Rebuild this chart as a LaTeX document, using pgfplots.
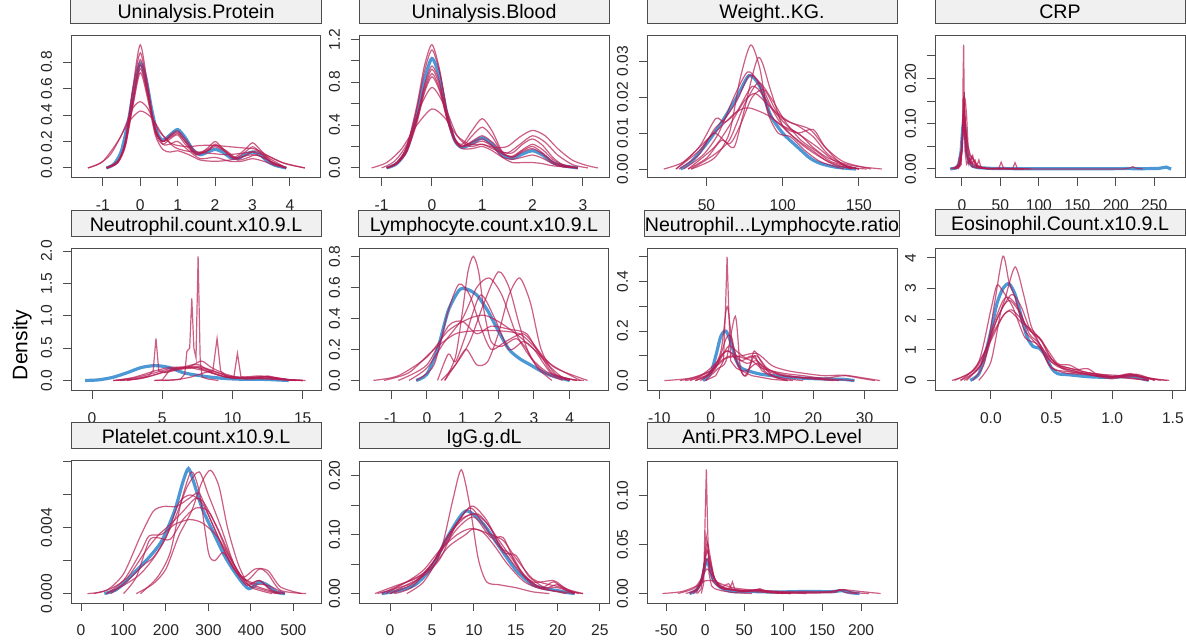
\documentclass[border=0pt]{standalone}
\usepackage{fontspec}
\setmainfont{Liberation Sans}
\usepackage{pgfplots}
\pgfplotsset{compat=1.18}
\definecolor{obsblue}{HTML}{006CC2}
\definecolor{impred}{HTML}{B61A51}
\pgfplotsset{
  panel/.style={
    scale only axis, width=125pt, height=71pt, anchor=south west,
    axis line style={draw=black!70, line width=0.5pt},
    tick align=outside, xtick pos=bottom, ytick pos=left,
    major tick length=4pt,
    tick style={draw=black!70, line width=0.5pt},
    scaled ticks=false,
    tick label style={font=\fontsize{7.8}{9}\selectfont, text=black!85},
    yticklabel style={xshift=-2pt, rotate=90, anchor=south},
    xticklabel style={yshift=-3.5pt},
    title style={at={(0.5,1)}, anchor=south, draw=black!70, fill=gray!12, line width=0.5pt,
      minimum width=125pt, minimum height=13pt, inner sep=0pt, text height=8pt, text depth=0pt,
      font=\fontsize{9.8}{10}\selectfont},
  },
  obs/.style={color=obsblue, opacity=0.7, line width=1.6pt, smooth, tension=0.45, mark=none},
  imp/.style={color=impred, opacity=0.7, line width=0.6pt, smooth, tension=0.45, mark=none},
  impS/.style={color=impred, opacity=0.7, line width=0.6pt, sharp plot, mark=none},
  obsS/.style={color=obsblue, opacity=0.7, line width=1.6pt, sharp plot, mark=none},
}
\begin{document}
\begin{tikzpicture}
\path[use as bounding box] (0,0) rectangle (593pt,321.5pt);
\node[rotate=90, font=\fontsize{10.5}{12}\selectfont] at (11pt,149pt) {Density};

% ---------- Row 1 ----------
\begin{axis}[panel, at={(35.5pt,232.5pt)}, title={Uninalysis.Protein},
  xmin=-1.85, xmax=4.83, ymin=-0.076, ymax=0.997,
  xtick={-1,0,1,2,3,4}, xticklabels={-1,0,1,2,3,4},
  ytick={0,0.2,0.4,0.6,0.8}, yticklabels={0.0,0.2,0.4,0.6,0.8}]
\addplot[obs] coordinates {(-0.9,0) (-0.7,0.03) (-0.5,0.13) (-0.3,0.38) (-0.15,0.63) (0,0.79) (0.15,0.68) (0.3,0.45) (0.45,0.27) (0.6,0.21) (0.8,0.25) (1.0,0.29) (1.2,0.23) (1.4,0.14) (1.6,0.1) (1.8,0.12) (2.0,0.14) (2.2,0.12) (2.4,0.08) (2.6,0.07) (2.8,0.1) (3.0,0.12) (3.2,0.1) (3.4,0.05) (3.6,0.02) (3.9,0)};
\addplot[imp] coordinates {(-0.9,0) (-0.6,0.04) (-0.4,0.2) (-0.2,0.6) (0,0.93) (0.2,0.62) (0.4,0.27) (0.6,0.18) (0.8,0.22) (1.0,0.25) (1.2,0.18) (1.5,0.1) (1.8,0.13) (2.0,0.18) (2.2,0.14) (2.5,0.07) (2.8,0.12) (3.0,0.16) (3.2,0.12) (3.5,0.04) (3.9,0)};
\addplot[imp] coordinates {(-0.9,0) (-0.6,0.05) (-0.4,0.2) (-0.2,0.58) (0,0.87) (0.2,0.6) (0.4,0.28) (0.6,0.2) (0.8,0.23) (1.0,0.26) (1.2,0.2) (1.5,0.1) (1.8,0.15) (2.0,0.2) (2.2,0.15) (2.5,0.08) (2.8,0.14) (3.0,0.19) (3.2,0.14) (3.5,0.05) (3.9,0)};
\addplot[imp] coordinates {(-1.4,0) (-1.1,0.03) (-0.8,0.1) (-0.5,0.25) (-0.2,0.45) (0,0.5) (0.2,0.45) (0.5,0.28) (0.8,0.19) (1.0,0.17) (1.3,0.16) (1.6,0.17) (2.0,0.17) (2.4,0.16) (2.8,0.15) (3.1,0.14) (3.5,0.08) (3.9,0.03) (4.4,0)};
\addplot[imp] coordinates {(-1.4,0) (-1.0,0.05) (-0.6,0.2) (-0.3,0.35) (0,0.43) (0.3,0.38) (0.6,0.25) (0.9,0.16) (1.2,0.13) (1.5,0.12) (1.9,0.11) (2.3,0.1) (2.7,0.11) (3.0,0.12) (3.4,0.09) (3.8,0.04) (4.4,0)};
\addplot[imp] coordinates {(-0.9,0) (-0.6,0.05) (-0.4,0.17) (-0.2,0.48) (0,0.75) (0.2,0.55) (0.4,0.3) (0.6,0.18) (0.8,0.18) (1.0,0.2) (1.3,0.13) (1.6,0.07) (2.0,0.08) (2.4,0.05) (2.7,0.05) (3.0,0.07) (3.3,0.05) (3.6,0.02) (3.9,0)};
\addplot[imp] coordinates {(-0.9,0) (-0.6,0.05) (-0.4,0.18) (-0.2,0.52) (0,0.82) (0.2,0.58) (0.4,0.3) (0.6,0.2) (0.8,0.24) (1.0,0.27) (1.2,0.2) (1.5,0.11) (1.8,0.13) (2.0,0.16) (2.3,0.12) (2.6,0.06) (2.9,0.08) (3.1,0.1) (3.4,0.06) (3.9,0)};
\addplot[imp] coordinates {(-0.9,0) (-0.6,0.04) (-0.4,0.16) (-0.2,0.46) (0,0.72) (0.2,0.52) (0.4,0.25) (0.6,0.14) (0.8,0.12) (1.0,0.13) (1.3,0.1) (1.6,0.06) (2.0,0.05) (2.4,0.06) (2.8,0.09) (3.0,0.1) (3.3,0.08) (3.6,0.03) (3.9,0)};
\addplot[imp] coordinates {(-0.9,0) (-0.6,0.04) (-0.4,0.18) (-0.2,0.5) (0,0.78) (0.2,0.55) (0.4,0.28) (0.6,0.2) (0.8,0.25) (1.0,0.28) (1.2,0.22) (1.5,0.12) (1.8,0.14) (2.0,0.17) (2.3,0.13) (2.6,0.07) (2.9,0.11) (3.1,0.13) (3.4,0.08) (3.9,0)};
\end{axis}

\begin{axis}[panel, at={(179.5pt,232.5pt)}, title={Uninalysis.Blood},
  xmin=-1.45, xmax=3.52, ymin=-0.094, ymax=1.23,
  xtick={-1,0,1,2,3}, xticklabels={-1,0,1,2,3},
  ytick={0,0.2,0.4,0.6,0.8,1.0,1.2}, yticklabels={0.0,{},0.4,{},0.8,{},1.2}]
\addplot[obs] coordinates {(-0.9,0) (-0.7,0.04) (-0.5,0.17) (-0.3,0.5) (-0.15,0.82) (0,1.02) (0.15,0.85) (0.3,0.5) (0.45,0.26) (0.6,0.19) (0.8,0.23) (1.0,0.28) (1.2,0.22) (1.4,0.12) (1.6,0.09) (1.8,0.13) (2.0,0.16) (2.2,0.12) (2.4,0.05) (2.6,0.02) (2.9,0)};
\addplot[imp] coordinates {(-0.9,0) (-0.7,0.05) (-0.5,0.2) (-0.3,0.58) (-0.15,0.95) (0,1.15) (0.15,0.92) (0.3,0.52) (0.45,0.28) (0.6,0.22) (0.8,0.35) (1.0,0.46) (1.2,0.34) (1.4,0.15) (1.6,0.1) (1.8,0.16) (2.0,0.2) (2.2,0.14) (2.4,0.06) (2.6,0.02) (2.9,0)};
\addplot[imp] coordinates {(-0.9,0) (-0.7,0.04) (-0.5,0.16) (-0.3,0.47) (-0.15,0.77) (0,0.95) (0.15,0.8) (0.3,0.48) (0.45,0.27) (0.6,0.2) (0.8,0.25) (1.0,0.3) (1.2,0.24) (1.4,0.15) (1.6,0.14) (1.8,0.22) (2.0,0.27) (2.2,0.21) (2.4,0.1) (2.6,0.03) (2.9,0)};
\addplot[imp] coordinates {(-1.2,0) (-0.9,0.05) (-0.6,0.18) (-0.3,0.4) (0,0.55) (0.25,0.47) (0.5,0.3) (0.75,0.22) (1.0,0.22) (1.25,0.19) (1.5,0.2) (1.75,0.29) (2.0,0.35) (2.25,0.3) (2.5,0.18) (2.8,0.07) (3.1,0.02) (3.3,0)};
\addplot[imp] coordinates {(-1.0,0) (-0.75,0.06) (-0.5,0.22) (-0.25,0.55) (0,0.75) (0.25,0.58) (0.5,0.3) (0.75,0.2) (1.0,0.22) (1.25,0.17) (1.5,0.14) (1.75,0.22) (2.0,0.3) (2.25,0.24) (2.5,0.12) (2.8,0.03) (3.1,0)};
\addplot[imp] coordinates {(-0.9,0) (-0.7,0.04) (-0.5,0.15) (-0.3,0.42) (-0.15,0.7) (0,0.85) (0.15,0.72) (0.3,0.45) (0.45,0.25) (0.6,0.18) (0.8,0.18) (1.0,0.2) (1.2,0.16) (1.4,0.1) (1.6,0.08) (1.8,0.1) (2.0,0.12) (2.2,0.09) (2.4,0.04) (2.6,0.01) (2.9,0)};
\addplot[imp] coordinates {(-0.9,0) (-0.7,0.04) (-0.5,0.16) (-0.3,0.44) (-0.15,0.72) (0,0.88) (0.15,0.74) (0.3,0.47) (0.45,0.26) (0.6,0.2) (0.8,0.22) (1.0,0.25) (1.2,0.2) (1.4,0.1) (1.6,0.05) (1.8,0.05) (2.0,0.05) (2.2,0.04) (2.4,0.02) (2.9,0)};
\addplot[imp] coordinates {(-0.9,0) (-0.7,0.05) (-0.5,0.19) (-0.3,0.55) (-0.15,0.9) (0,1.1) (0.15,0.9) (0.3,0.52) (0.45,0.27) (0.6,0.2) (0.8,0.3) (1.0,0.38) (1.2,0.29) (1.4,0.14) (1.6,0.1) (1.8,0.15) (2.0,0.18) (2.2,0.13) (2.4,0.05) (2.6,0.02) (2.9,0)};
\addplot[imp] coordinates {(-0.9,0) (-0.7,0.04) (-0.5,0.17) (-0.3,0.46) (-0.15,0.74) (0,0.92) (0.15,0.77) (0.3,0.47) (0.45,0.26) (0.6,0.2) (0.8,0.24) (1.0,0.27) (1.2,0.21) (1.4,0.13) (1.6,0.11) (1.8,0.17) (2.0,0.22) (2.2,0.17) (2.4,0.08) (2.6,0.03) (2.9,0)};
\end{axis}

\begin{axis}[panel, at={(323.5pt,232.5pt)}, title={Weight..KG.},
  xmin=11, xmax=175, ymin=-0.0025, ymax=0.037,
  xtick={50,100,150}, xticklabels={50,100,150},
  ytick={0,0.01,0.02,0.03}, yticklabels={0.00,0.01,0.02,0.03}]
\addplot[obs] coordinates {(33,0) (40,0.002) (50,0.007) (60,0.013) (70,0.02) (78,0.026) (85,0.023) (92,0.015) (100,0.01) (110,0.006) (118,0.003) (125,0.0015) (135,0.0005) (148,0)};
\addplot[imp] coordinates {(40,0) (55,0.003) (65,0.01) (72,0.025) (79,0.0345) (85,0.028) (90,0.016) (97,0.01) (105,0.009) (115,0.005) (125,0.002) (140,0)};
\addplot[imp] coordinates {(38,0) (50,0.003) (60,0.008) (68,0.006) (74,0.015) (84,0.031) (92,0.022) (100,0.012) (110,0.008) (120,0.005) (130,0.002) (145,0)};
\addplot[imp] coordinates {(22,0) (35,0.002) (50,0.008) (60,0.012) (70,0.016) (78,0.017) (90,0.015) (100,0.012) (110,0.01) (120,0.006) (130,0.003) (145,0.001) (165,0)};
\addplot[imp] coordinates {(30,0) (45,0.006) (56,0.014) (62,0.013) (70,0.016) (80,0.023) (88,0.02) (100,0.012) (110,0.01) (120,0.011) (128,0.006) (140,0.001) (155,0)};
\addplot[imp] coordinates {(35,0) (48,0.004) (58,0.01) (68,0.02) (77,0.027) (84,0.024) (92,0.015) (102,0.011) (112,0.007) (122,0.004) (135,0.001) (150,0)};
\addplot[imp] coordinates {(40,0) (55,0.004) (65,0.008) (75,0.018) (84,0.024) (92,0.02) (102,0.013) (112,0.008) (122,0.005) (132,0.002) (150,0)};
\addplot[imp] coordinates {(30,0) (45,0.005) (55,0.01) (65,0.007) (72,0.012) (80,0.02) (88,0.022) (96,0.016) (105,0.013) (118,0.011) (128,0.006) (140,0.002) (158,0)};
\addplot[imp] coordinates {(38,0) (55,0.006) (65,0.012) (75,0.019) (82,0.021) (90,0.018) (100,0.014) (110,0.012) (120,0.009) (130,0.004) (145,0)};
\addplot[imp] coordinates {(32,0) (45,0.004) (55,0.011) (62,0.014) (70,0.019) (78,0.026) (85,0.024) (93,0.017) (103,0.012) (113,0.009) (123,0.006) (135,0.002) (150,0)};
\end{axis}

\begin{axis}[panel, at={(467.5pt,232.5pt)}, title={CRP},
  xmin=-35, xmax=290, ymin=-0.02, ymax=0.294,
  xtick={0,50,100,150,200,250}, xticklabels={0,50,100,150,200,250},
  ytick={0,0.05,0.1,0.15,0.2,0.25}, yticklabels={0.00,{},0.10,{},0.20,{}}]
\addplot[obsS] coordinates {(-15,0) (-8,0.002) (-4,0.01) (-1,0.04) (1,0.09) (2.5,0.11) (4,0.09) (6,0.04) (9,0.015) (14,0.006) (20,0.003) (40,0.001) (80,0.0005) (150,0.0003) (215,0.0008) (230,0.0005) (255,0.001) (262,0.003) (266,0.004) (270,0.001) (272,0)};
\addplot[impS] coordinates {(-5,0) (-1,0.01) (0.5,0.06) (1.5,0.2) (2.2,0.275) (3,0.15) (4,0.04) (6,0.01) (8,0.015) (10,0.022) (12,0.006) (20,0.002) (50,0) (80,0)};
\addplot[impS] coordinates {(-10,0) (-3,0.006) (0,0.04) (1.5,0.12) (3,0.17) (4.5,0.1) (6.5,0.03) (9,0.01) (12,0.025) (14,0.005) (19,0.004) (22,0.02) (25,0.002) (40,0.0005) (48,0.002) (51,0.015) (54,0.002) (70,0.0005) (80,0)};
\addplot[impS] coordinates {(-12,0) (-4,0.008) (-1,0.03) (1,0.09) (3,0.14) (4.5,0.15) (6,0.12) (8,0.05) (11,0.03) (14,0.025) (17,0.015) (20,0.008) (30,0.002) (66,0.001) (69,0.014) (72,0.001) (90,0)};
\addplot[impS] coordinates {(-15,0) (-6,0.006) (-1,0.04) (2,0.09) (3.5,0.1) (6,0.07) (10,0.03) (15,0.02) (20,0.005) (30,0.001) (60,0) (210,0) (218,0.002) (222,0.005) (226,0.002) (235,0)};
\addplot[impS] coordinates {(-8,0) (-2,0.01) (0.5,0.06) (2,0.13) (3.5,0.08) (5,0.04) (8,0.025) (11,0.02) (14,0.03) (16,0.012) (20,0.004) (25,0.002) (40,0)};
\addplot[impS] coordinates {(-6,0) (-1,0.02) (1,0.08) (2.5,0.16) (4,0.1) (5.5,0.04) (8,0.02) (12,0.012) (17,0.02) (19,0.008) (24,0.002) (35,0)};
\addplot[impS] coordinates {(-10,0) (-3,0.01) (0,0.05) (2,0.1) (3.5,0.12) (5,0.09) (7,0.045) (10,0.02) (15,0.01) (22,0.004) (30,0.001) (50,0)};
\end{axis}

% ---------- Row 2 ----------
\begin{axis}[panel, at={(35.5pt,126.25pt)}, title={Neutrophil.count.x10.9.L},
  xmin=-1.5, xmax=16.3, ymin=-0.155, ymax=2.04,
  xtick={0,5,10,15}, xticklabels={0,5,10,15},
  ytick={0,0.5,1,1.5,2}, yticklabels={0.0,0.5,1.0,1.5,2.0}]
\addplot[obs] coordinates {(-0.5,0) (0.5,0.01) (1.5,0.05) (2.5,0.12) (3.5,0.2) (4.5,0.23) (5.5,0.2) (6.5,0.12) (7.5,0.08) (8.5,0.05) (9.5,0.03) (10.5,0.02) (11.5,0.02) (12.5,0.015) (13.5,0.005) (14,0)};
\addplot[impS] coordinates {(1.5,0) (2.5,0.01) (3.2,0.03) (4,0.07) (4.35,0.15) (4.55,0.65) (4.75,0.15) (5.2,0.12) (5.8,0.15) (6.5,0.18) (7.5,0.2) (8.5,0.12) (9.5,0.05) (11,0.02) (12.5,0.03) (14,0.005) (15,0)};
\addplot[impS] coordinates {(4.5,0) (5.5,0.005) (6.3,0.02) (6.6,0.1) (6.75,0.45) (6.95,0.5) (7.1,1.27) (7.25,0.5) (7.4,0.35) (7.55,1.92) (7.7,0.3) (7.85,0.05) (8.3,0.02) (9,0)};
\addplot[impS] coordinates {(5,0) (6,0.01) (7,0.05) (8,0.12) (8.6,0.15) (8.9,0.65) (9.15,0.15) (9.6,0.05) (10.1,0.06) (10.35,0.42) (10.6,0.06) (11.2,0.03) (12.5,0.06) (14,0.01) (15.2,0)};
\addplot[imp] coordinates {(1.5,0) (3,0.04) (4.5,0.12) (5.5,0.18) (6.5,0.19) (7.5,0.2) (8.5,0.15) (9.5,0.08) (10.5,0.04) (11.5,0.04) (12.5,0.05) (13.5,0.02) (15,0)};
\addplot[imp] coordinates {(2,0) (3.5,0.03) (5,0.12) (6,0.17) (7,0.22) (7.8,0.3) (8.5,0.2) (9.5,0.1) (10.5,0.05) (12,0.07) (13.5,0.02) (15,0)};
\addplot[impS] coordinates {(4.4,0) (5,0.01) (5.5,0.15) (6,0.2) (7,0.2) (8,0.15) (9,0.08) (10,0.03) (11.5,0.04) (12.5,0.07) (14,0.01) (15,0)};
\addplot[imp] coordinates {(1.7,0) (3,0.05) (4.5,0.15) (5.5,0.2) (6.5,0.21) (7.5,0.25) (8.5,0.13) (9.5,0.06) (11,0.05) (12,0.03) (13.5,0.01) (14.5,0)};
\addplot[imp] coordinates {(2.5,0) (4,0.06) (5.5,0.16) (6.5,0.2) (7.5,0.22) (8.5,0.16) (9.5,0.08) (10.5,0.04) (12,0.06) (13,0.04) (14.5,0)};
\end{axis}

\begin{axis}[panel, at={(179.5pt,126.25pt)}, title={Lymphocyte.count.x10.9.L},
  xmin=-1.9, xmax=5.1, ymin=-0.065, ymax=0.85,
  xtick={-1,0,1,2,3,4}, xticklabels={-1,0,1,2,3,4},
  ytick={0,0.2,0.4,0.6,0.8}, yticklabels={0.0,0.2,0.4,0.6,0.8}]
\addplot[obs] coordinates {(-0.3,0) (0,0.04) (0.3,0.2) (0.6,0.45) (0.9,0.58) (1.1,0.59) (1.4,0.55) (1.7,0.45) (2.0,0.32) (2.3,0.2) (2.6,0.14) (2.9,0.1) (3.2,0.06) (3.5,0.03) (4.0,0)};
\addplot[imp] coordinates {(0.5,0) (0.8,0.15) (1.0,0.45) (1.15,0.7) (1.3,0.8) (1.45,0.7) (1.6,0.45) (1.8,0.25) (2.1,0.22) (2.5,0.27) (2.8,0.2) (3.1,0.08) (3.5,0)};
\addplot[imp] coordinates {(0.4,0) (0.8,0.1) (1.2,0.25) (1.6,0.5) (2.0,0.7) (2.3,0.6) (2.6,0.35) (2.9,0.15) (3.3,0.05) (3.8,0)};
\addplot[imp] coordinates {(0.5,0) (0.8,0.1) (1.1,0.2) (1.4,0.1) (1.7,0.12) (2.0,0.3) (2.3,0.55) (2.6,0.66) (2.9,0.5) (3.2,0.2) (3.6,0.04) (4.2,0)};
\addplot[imp] coordinates {(-0.5,0) (0,0.08) (0.5,0.25) (1.0,0.4) (1.4,0.6) (1.75,0.66) (2.1,0.55) (2.5,0.3) (2.9,0.15) (3.4,0.05) (4.2,0)};
\addplot[imp] coordinates {(-0.3,0) (0.2,0.1) (0.6,0.45) (0.9,0.62) (1.2,0.55) (1.5,0.35) (1.8,0.2) (2.2,0.25) (2.7,0.3) (3.1,0.2) (3.5,0.05) (4.0,0)};
\addplot[imp] coordinates {(-1.5,0) (-0.8,0.03) (0,0.15) (0.6,0.32) (1.2,0.4) (1.6,0.42) (2.0,0.38) (2.5,0.3) (3.0,0.2) (3.6,0.08) (4.5,0)};
\addplot[imp] coordinates {(-1.2,0) (-0.5,0.05) (0.2,0.2) (0.8,0.3) (1.4,0.32) (2.0,0.32) (2.6,0.3) (3.0,0.22) (3.5,0.1) (4.3,0)};
\addplot[imp] coordinates {(-0.8,0) (0,0.1) (0.6,0.35) (1.0,0.38) (1.4,0.3) (1.8,0.35) (2.3,0.33) (2.8,0.3) (3.2,0.15) (3.8,0.02) (4.4,0)};
\addplot[imp] coordinates {(0.3,0) (0.6,0.17) (0.8,0.12) (1.1,0.3) (1.5,0.55) (1.9,0.4) (2.3,0.2) (2.7,0.25) (3.0,0.2) (3.5,0.04) (4.0,0)};
\end{axis}

\begin{axis}[panel, at={(323.5pt,126.25pt)}, title={Neutrophil...Lymphocyte.ratio},
  xmin=-12.4, xmax=36.3, ymin=-0.04, ymax=0.534,
  xtick={-10,0,10,20,30}, xticklabels={-10,0,10,20,30},
  ytick={0,0.1,0.2,0.3,0.4,0.5}, yticklabels={0.0,{},0.2,{},0.4,{}}]
\addplot[obs] coordinates {(-1.5,0) (0,0.03) (1,0.1) (2,0.18) (3,0.2) (4,0.15) (5,0.08) (6,0.05) (8,0.035) (10,0.025) (13,0.018) (16,0.012) (20,0.008) (24,0.006) (26,0.005) (28,0)};
\addplot[impS] coordinates {(-1,0) (1,0.02) (2.5,0.08) (2.9,0.3) (3.2,0.5) (3.5,0.3) (3.9,0.08) (5,0.05) (8,0.02) (12,0.005) (15,0)};
\addplot[imp] coordinates {(-3,0) (0,0.03) (2,0.12) (3.2,0.3) (4.2,0.15) (5.5,0.05) (7,0.04) (9,0.07) (11,0.03) (14,0.01) (18,0)};
\addplot[imp] coordinates {(-1,0) (1.5,0.05) (3,0.08) (4.8,0.26) (5.8,0.05) (7,0.02) (8.5,0.1) (10,0.04) (13,0.01) (16,0)};
\addplot[imp] coordinates {(-9,0) (-4,0.01) (0,0.04) (3,0.09) (6,0.1) (9,0.11) (12,0.06) (15,0.04) (18,0.03) (22,0.02) (26,0.022) (30,0.01) (33,0)};
\addplot[imp] coordinates {(-6,0) (-2,0.02) (1,0.07) (3,0.12) (5,0.1) (8,0.08) (10,0.05) (14,0.03) (18,0.02) (22,0.01) (26,0.02) (29,0.01) (32,0)};
\addplot[imp] coordinates {(-4,0) (0,0.04) (2,0.1) (3.5,0.12) (5,0.08) (6.5,0.02) (7.5,0.05) (8.5,0.12) (10,0.07) (12,0.02) (15,0)};
\addplot[imp] coordinates {(-2,0) (1,0.05) (3,0.17) (4,0.18) (5,0.1) (7,0.07) (9,0.08) (11,0.04) (14,0.02) (18,0.01) (24,0)};
\addplot[imp] coordinates {(-5,0) (-1,0.02) (2,0.08) (4,0.1) (6,0.08) (8,0.1) (10,0.06) (13,0.03) (17,0.015) (22,0.008) (28,0)};
\addplot[imp] coordinates {(-3,0) (0,0.03) (2,0.09) (3.5,0.14) (5,0.12) (7,0.09) (9,0.1) (11,0.05) (14,0.02) (19,0.01) (25,0)};
\end{axis}

\begin{axis}[panel, at={(467.5pt,126.25pt)}, title={Eosinophil.Count.x10.9.L},
  xmin=-0.46, xmax=1.6, ymin=-0.33, ymax=4.3,
  xtick={0,0.5,1,1.5}, xticklabels={0.0,0.5,1.0,1.5},
  ytick={0,1,2,3,4}, yticklabels={0,1,2,3,4}]
\addplot[obs] coordinates {(-0.17,0) (-0.1,0.2) (-0.05,0.8) (0,1.6) (0.05,2.5) (0.1,3.0) (0.15,3.15) (0.2,2.8) (0.25,2.1) (0.3,1.4) (0.35,1.1) (0.4,1.05) (0.45,0.8) (0.5,0.4) (0.55,0.22) (0.65,0.18) (0.8,0.12) (0.95,0.1) (1.1,0.12) (1.15,0.13) (1.2,0.1) (1.3,0)};
\addplot[imp] coordinates {(-0.15,0) (-0.05,0.6) (0.03,2.5) (0.1,4.05) (0.15,3.2) (0.2,2.7) (0.27,1.7) (0.35,1.3) (0.42,1.0) (0.5,0.4) (0.6,0.3) (0.8,0.2) (1.0,0.05) (1.15,0.2) (1.3,0)};
\addplot[imp] coordinates {(-0.1,0) (0,0.6) (0.08,2.2) (0.12,2.7) (0.2,3.7) (0.27,2.8) (0.33,1.8) (0.4,1.2) (0.48,0.5) (0.6,0.25) (0.75,0.2) (0.9,0.15) (1.1,0.1) (1.3,0)};
\addplot[imp] coordinates {(-0.25,0) (-0.1,0.6) (0,2.3) (0.05,3.1) (0.1,2.9) (0.18,2.4) (0.28,1.4) (0.38,1.2) (0.45,0.8) (0.55,0.45) (0.7,0.3) (0.85,0.15) (1.0,0.1) (1.2,0.15) (1.4,0)};
\addplot[imp] coordinates {(-0.32,0) (-0.15,0.3) (0,1.3) (0.1,2.1) (0.17,2.3) (0.25,2.0) (0.35,1.5) (0.45,0.9) (0.55,0.5) (0.65,0.4) (0.8,0.25) (1.0,0.12) (1.15,0.2) (1.3,0.05) (1.47,0)};
\addplot[imp] coordinates {(-0.25,0) (-0.1,0.4) (0,1.5) (0.1,2.4) (0.16,2.6) (0.24,2.2) (0.32,1.5) (0.4,1.2) (0.5,0.6) (0.6,0.45) (0.7,0.35) (0.8,0.38) (0.9,0.15) (1.1,0.08) (1.3,0)};
\addplot[imp] coordinates {(-0.2,0) (-0.05,0.7) (0.05,2.0) (0.17,2.8) (0.25,2.4) (0.33,1.6) (0.42,1.3) (0.5,0.7) (0.6,0.4) (0.75,0.25) (0.9,0.2) (1.05,0.1) (1.2,0.2) (1.35,0)};
\addplot[imp] coordinates {(-0.3,0) (-0.12,0.4) (0,1.4) (0.1,2.1) (0.16,2.25) (0.25,1.9) (0.35,1.6) (0.45,1.1) (0.55,0.55) (0.65,0.5) (0.75,0.3) (0.9,0.2) (1.1,0.15) (1.25,0.1) (1.45,0)};
\addplot[imp] coordinates {(-0.22,0) (-0.08,0.5) (0.02,1.8) (0.1,2.6) (0.15,2.7) (0.22,2.4) (0.3,1.7) (0.4,1.4) (0.48,0.8) (0.58,0.4) (0.7,0.25) (0.85,0.18) (1.0,0.1) (1.15,0.22) (1.35,0)};
\end{axis}

% ---------- Row 3 ----------
\begin{axis}[panel, at={(35.5pt,20pt)}, title={Platelet.count.x10.9.L},
  xmin=-23.6, xmax=565, ymin=-0.00057, ymax=0.00806,
  xtick={0,100,200,300,400,500}, xticklabels={0,100,200,300,400,500},
  ytick={0,0.002,0.004,0.006,0.008}, yticklabels={0.000,{},0.004,{},{}}]
\addplot[obs] coordinates {(55,0) (80,0.0002) (100,0.0006) (130,0.0014) (160,0.0022) (190,0.0032) (220,0.005) (240,0.0068) (253,0.0076) (265,0.0068) (285,0.0052) (310,0.0038) (340,0.0022) (370,0.001) (395,0.0003) (420,0.0007) (440,0.0005) (460,0.0001) (480,0)};
\addplot[imp] coordinates {(130,0) (170,0.0006) (200,0.0015) (230,0.0035) (260,0.005) (285,0.0068) (305,0.0075) (325,0.0065) (345,0.004) (370,0.0018) (395,0.0005) (420,0.0002) (450,0)};
\addplot[imp] coordinates {(60,0) (100,0.0005) (140,0.0012) (180,0.0025) (220,0.0045) (250,0.0065) (278,0.0074) (300,0.006) (330,0.004) (360,0.0018) (390,0.0006) (420,0.0008) (450,0.0002) (480,0)};
\addplot[imp] coordinates {(140,0) (180,0.001) (210,0.0025) (235,0.0055) (255,0.0072) (265,0.0073) (280,0.006) (300,0.0025) (315,0.002) (335,0.0025) (360,0.0015) (390,0.0005) (420,0.0008) (450,0.0001) (470,0)};
\addplot[imp] coordinates {(15,0) (60,0.0002) (100,0.0012) (140,0.0035) (170,0.005) (195,0.0053) (225,0.0053) (255,0.0058) (278,0.0061) (300,0.0048) (330,0.003) (360,0.0015) (390,0.0008) (420,0.0015) (440,0.0012) (470,0.0002) (530,0)};
\addplot[imp] coordinates {(60,0) (100,0.0008) (140,0.0025) (160,0.0035) (190,0.0036) (220,0.0042) (255,0.0045) (285,0.0043) (320,0.0035) (350,0.0022) (380,0.001) (410,0.0015) (440,0.0014) (470,0.0004) (520,0)};
\addplot[imp] coordinates {(30,0) (70,0.0003) (110,0.001) (150,0.0025) (180,0.0035) (210,0.0042) (240,0.005) (270,0.0058) (290,0.0055) (320,0.004) (350,0.0022) (380,0.001) (410,0.0006) (440,0.0005) (480,0)};
\addplot[imp] coordinates {(70,0) (110,0.0008) (150,0.0018) (170,0.0022) (200,0.0034) (230,0.0055) (258,0.006) (285,0.0055) (310,0.0042) (340,0.0025) (370,0.0012) (400,0.0006) (430,0.0003) (470,0)};
\addplot[imp] coordinates {(100,0) (130,0.001) (160,0.0032) (180,0.0034) (210,0.0033) (240,0.0045) (270,0.0052) (300,0.005) (330,0.0035) (360,0.0018) (390,0.0006) (420,0.0003) (460,0)};
\end{axis}

\begin{axis}[panel, at={(179.5pt,20pt)}, title={IgG.g.dL},
  xmin=-3.7, xmax=26.1, ymin=-0.016, ymax=0.225,
  xtick={0,5,10,15,20,25}, xticklabels={0,5,10,15,20,25},
  ytick={0,0.05,0.1,0.15,0.2}, yticklabels={0.00,{},0.10,{},0.20}]
\addplot[obs] coordinates {(-1,0) (1,0.005) (3,0.015) (5,0.045) (7,0.1) (9,0.14) (11,0.12) (13,0.08) (15,0.04) (17,0.015) (19,0.007) (20,0.005) (21,0.002) (22,0)};
\addplot[imp] coordinates {(2,0) (4,0.02) (6,0.07) (7.5,0.16) (8.5,0.21) (9.5,0.15) (10.5,0.06) (11.5,0.02) (13,0.015) (15,0.01) (17,0.003) (19,0)};
\addplot[imp] coordinates {(-1.5,0) (1,0.01) (3,0.02) (5,0.05) (7,0.1) (9.5,0.145) (11,0.12) (13,0.08) (14.5,0.065) (16,0.03) (18,0.01) (19.5,0.02) (21,0.005) (23,0)};
\addplot[imp] coordinates {(-1.8,0) (1,0.015) (3,0.025) (5,0.045) (7,0.08) (9,0.1) (10,0.11) (12,0.1) (13.5,0.09) (15,0.06) (17,0.025) (19,0.015) (20,0.012) (22.5,0)};
\addplot[imp] coordinates {(0,0) (2,0.015) (4,0.03) (6,0.06) (8,0.12) (10,0.135) (11.5,0.12) (13,0.09) (14.5,0.06) (16,0.03) (18,0.01) (20,0.01) (22,0)};
\addplot[imp] coordinates {(-1,0) (2,0.02) (4,0.035) (6,0.07) (8,0.11) (10,0.13) (12,0.095) (13.5,0.095) (15,0.05) (17,0.02) (19.5,0.022) (21,0.008) (23,0)};
\addplot[imp] coordinates {(0.5,0) (2.5,0.01) (5,0.05) (7,0.1) (9,0.13) (10.5,0.135) (12,0.11) (13.5,0.07) (15,0.065) (16.5,0.03) (18.5,0.01) (20,0.015) (22,0)};
\addplot[imp] coordinates {(-0.5,0) (2,0.02) (4,0.04) (6,0.075) (8,0.1) (9.5,0.11) (11,0.105) (12.5,0.08) (14,0.05) (16,0.02) (18,0.008) (20,0.004) (22,0)};
\addplot[imp] coordinates {(0,0) (2.5,0.015) (5,0.05) (7,0.095) (9,0.14) (10,0.148) (11.5,0.125) (13,0.085) (15,0.045) (17,0.015) (19,0.006) (21,0)};
\end{axis}

\begin{axis}[panel, at={(323.5pt,20pt)}, title={Anti.PR3.MPO.Level},
  xmin=-74.6, xmax=246, ymin=-0.0097, ymax=0.1355,
  xtick={-50,0,50,100,150,200}, xticklabels={-50,0,50,100,150,200},
  ytick={0,0.05,0.1}, yticklabels={0.00,0.05,0.10}]
\addplot[obs] coordinates {(-20,0) (-12,0.003) (-5,0.012) (0,0.03) (2,0.034) (5,0.028) (10,0.015) (20,0.006) (35,0.002) (60,0.002) (90,0.0015) (120,0.002) (140,0.002) (165,0.002) (175,0.003) (185,0.001) (198,0)};
\addplot[impS] coordinates {(-5,0) (-2,0.01) (0,0.08) (1.5,0.127) (3,0.07) (5,0.02) (8,0.008) (12,0.005) (20,0.003) (35,0.001) (60,0)};
\addplot[impS] coordinates {(-10,0) (-5,0.005) (-1,0.03) (1,0.06) (3,0.05) (6,0.025) (10,0.012) (15,0.008) (25,0.004) (32,0.006) (35,0.012) (38,0.004) (50,0.002) (60,0.003) (70,0.005) (80,0.001) (110,0)};
\addplot[imp] coordinates {(-25,0) (-12,0.004) (-5,0.015) (0,0.035) (3,0.043) (7,0.03) (12,0.015) (20,0.006) (30,0.004) (50,0.002) (65,0.004) (75,0.003) (90,0.001) (120,0.0005) (165,0.001) (172,0.004) (180,0.001) (195,0)};
\addplot[imp] coordinates {(-55,0) (-30,0.002) (-10,0.008) (0,0.013) (10,0.013) (20,0.01) (35,0.006) (55,0.004) (75,0.003) (100,0.002) (130,0.002) (160,0.002) (175,0.004) (200,0.002) (225,0)};
\addplot[imp] coordinates {(-20,0) (-8,0.006) (-2,0.02) (2,0.035) (6,0.03) (10,0.02) (15,0.01) (20,0.006) (30,0.01) (35,0.004) (50,0.002) (70,0.004) (90,0.001) (110,0)};
\addplot[imp] coordinates {(-35,0) (-15,0.005) (-5,0.015) (2,0.025) (8,0.02) (15,0.012) (25,0.006) (40,0.004) (60,0.003) (80,0.002) (110,0.001) (150,0.001) (170,0.003) (178,0.004) (190,0.001) (210,0)};
\addplot[imp] coordinates {(-12,0) (-4,0.015) (0,0.04) (3,0.052) (7,0.035) (12,0.015) (20,0.006) (30,0.004) (45,0.003) (60,0.002) (80,0.001) (100,0)};
\addplot[imp] coordinates {(-15,0) (-6,0.01) (-1,0.03) (2,0.045) (6,0.035) (11,0.018) (18,0.008) (28,0.005) (45,0.003) (70,0.003) (100,0.001) (130,0)};
\end{axis}
\end{tikzpicture}
\end{document}
